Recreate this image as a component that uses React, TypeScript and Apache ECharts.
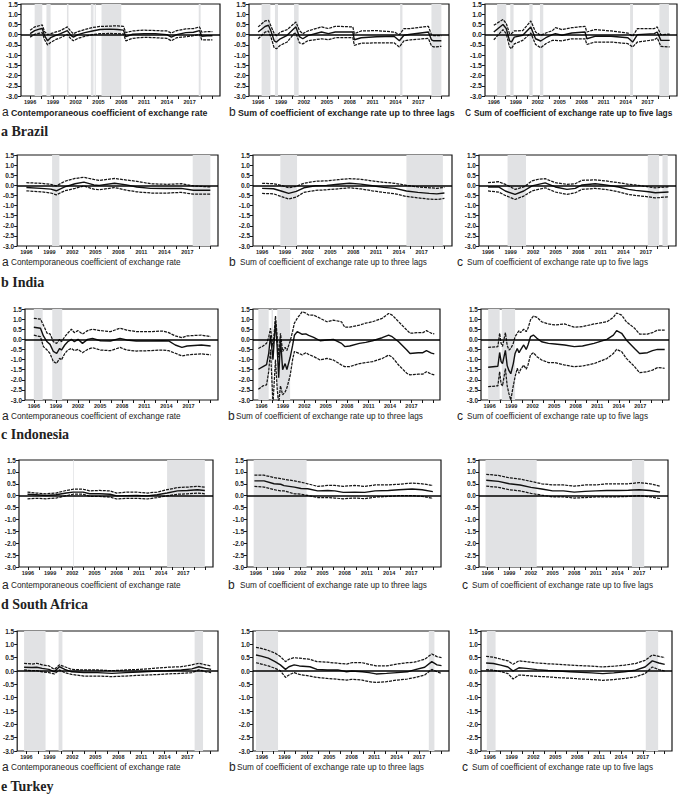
import React, { useEffect, useRef } from "react";
import * as echarts from "echarts";

// ---------------- axis ticks ----------------
const X_TICKS = [1996, 1997.5, 1999, 2000.5, 2002, 2003.5, 2005, 2006.5, 2008, 2009.5, 2011, 2012.5, 2014, 2015.5, 2017, 2018.5, 2020];
const X_LABELS = [1996, 1999, 2002, 2005, 2008, 2011, 2014, 2017];
const COUNTRIES = ["a Brazil", "b India", "c Indonesia", "d South Africa", "e Turkey"];
const LETTERS = ["a", "b", "c"];
const CAPTIONS = [
  "Contemporaneous coefficient of exchange rate",
  "Sum of coefficient of exchange rate up to three lags",
  "Sum of coefficient of exchange rate up to five lags",
];

// ---------------- Brazil ----------------
const braA_year = [1996.0, 1996.6, 1997.3, 1997.6, 1997.9, 1998.3, 1998.7, 1999.3, 2000.0, 2000.9, 2001.4, 2001.7, 2002.3, 2003.2, 2004.2, 2005.2, 2006.5, 2007.5, 2008.3, 2008.6, 2009.5, 2011.0, 2012.5, 2014.0, 2014.6, 2015.3, 2016.5, 2017.5, 2018.3, 2018.6, 2019.3, 2020.0];
const braA_up = [0.22, 0.38, 0.45, 0.48, 0.15, 0.0, 0.05, 0.12, 0.2, 0.38, 0.15, 0.05, 0.15, 0.25, 0.35, 0.4, 0.42, 0.43, 0.4, 0.1, 0.18, 0.22, 0.2, 0.18, 0.08, 0.2, 0.28, 0.3, 0.38, 0.12, 0.15, 0.15];
const braA_mid = [0.05, 0.2, 0.28, 0.3, -0.05, -0.3, -0.15, -0.05, 0.05, 0.2, -0.05, -0.12, 0.0, 0.1, 0.18, 0.25, 0.27, 0.25, 0.22, -0.1, 0.02, 0.05, 0.05, 0.0, -0.12, 0.0, 0.1, 0.12, 0.2, -0.08, -0.05, -0.05];
const braA_lo = [-0.12, 0.02, 0.08, 0.1, -0.25, -0.5, -0.38, -0.25, -0.15, 0.02, -0.22, -0.3, -0.18, -0.08, 0.0, 0.05, 0.06, 0.05, 0.04, -0.3, -0.18, -0.13, -0.15, -0.18, -0.3, -0.15, -0.1, -0.05, 0.02, -0.25, -0.25, -0.25];
const braA_shade = [[1996.6, 1997.6], [1998.15, 1998.7], [2000.85, 2001.05], [2004.0, 2004.35], [2004.5, 2004.65], [2005.4, 2008.0], [2018.2, 2018.45]];

const braB_year = [1996.0, 1996.9, 1997.35, 1997.7, 1998.1, 1998.4, 1998.9, 1999.8, 2000.7, 2000.95, 2001.4, 2001.85, 2002.5, 2004.3, 2005.2, 2006.1, 2008.4, 2008.6, 2009.5, 2011.5, 2013.8, 2014.5, 2015.1, 2016.0, 2018.3, 2018.7, 2019.0, 2020.0];
const braB_up = [0.38, 0.67, 0.7, 0.4, 0.05, -0.05, 0.12, 0.25, 0.54, 0.62, 0.2, 0.05, 0.18, 0.38, 0.3, 0.41, 0.38, 0.05, 0.18, 0.2, 0.13, 0.0, 0.3, 0.3, 0.41, 0.0, -0.05, -0.05];
const braB_mid = [0.13, 0.4, 0.46, 0.15, -0.3, -0.36, -0.2, -0.03, 0.3, 0.38, -0.1, -0.2, -0.05, 0.13, 0.05, 0.13, 0.13, -0.25, -0.15, -0.1, -0.08, -0.3, -0.03, 0.02, 0.13, -0.25, -0.3, -0.3];
const braB_lo = [-0.2, 0.12, 0.18, -0.15, -0.65, -0.69, -0.52, -0.36, 0.05, 0.08, -0.4, -0.45, -0.3, -0.2, -0.25, -0.15, -0.15, -0.52, -0.42, -0.4, -0.4, -0.6, -0.3, -0.25, -0.18, -0.55, -0.6, -0.57];
const braB_shade = [[1996.45, 1997.6], [1998.2, 1998.6], [2000.7, 2001.3], [2014.6, 2014.9], [2018.7, 2020.0]];

const braC_year = [1996.0, 1997.25, 1997.7, 1998.15, 1998.4, 1998.8, 1999.95, 2001.05, 2001.7, 2002.4, 2003.1, 2004.0, 2004.4, 2005.3, 2006.65, 2008.45, 2008.7, 2009.8, 2012.0, 2014.3, 2014.95, 2015.6, 2017.9, 2018.3, 2018.8, 2020.0];
const braC_up = [0.46, 0.74, 0.55, 0.05, 0.05, 0.18, 0.2, 0.67, 0.13, -0.03, 0.08, 0.2, 0.34, 0.25, 0.34, 0.41, 0.13, 0.25, 0.18, 0.08, -0.08, 0.3, 0.3, 0.38, 0.0, 0.03];
const braC_mid = [0.13, 0.5, 0.3, -0.3, -0.36, -0.12, -0.03, 0.38, -0.2, -0.31, -0.15, 0.0, 0.05, -0.03, 0.08, 0.13, -0.2, -0.08, -0.08, -0.15, -0.36, 0.0, 0.05, 0.13, -0.28, -0.28];
const braC_lo = [-0.25, 0.25, 0.05, -0.6, -0.69, -0.45, -0.28, 0.08, -0.48, -0.64, -0.44, -0.28, -0.28, -0.3, -0.2, -0.2, -0.48, -0.36, -0.36, -0.44, -0.6, -0.36, -0.25, -0.15, -0.57, -0.6];
const braC_shade = [[1996.45, 1997.7], [1998.25, 1998.7], [2000.85, 2001.3], [2002.3, 2002.75], [2014.6, 2015.0], [2018.6, 2019.9]];

// ---------------- India ----------------
const indA_year = [1996.0, 1997.9, 1999.2, 1999.9, 2001.0, 2002.35, 2003.5, 2004.8, 2005.5, 2007.5, 2009.05, 2010.4, 2012.2, 2014.4, 2016.2, 2017.8, 2020.0];
const indA_up = [0.13, 0.1, 0.05, -0.03, 0.2, 0.34, 0.4, 0.29, 0.24, 0.34, 0.26, 0.2, 0.08, 0.05, 0.08, -0.03, -0.08];
const indA_mid = [-0.11, -0.15, -0.19, -0.27, -0.08, 0.08, 0.16, 0.02, 0.0, 0.1, 0.02, -0.08, -0.15, -0.16, -0.15, -0.24, -0.24];
const indA_lo = [-0.27, -0.32, -0.38, -0.47, -0.27, -0.15, -0.03, -0.19, -0.22, -0.11, -0.24, -0.32, -0.38, -0.38, -0.35, -0.44, -0.44];
const indA_shade = [[1999.35, 2000.3], [2017.7, 2020.0]];

const indB_year = [1996.0, 1997.5, 1998.5, 1999.5, 2000.5, 2001.5, 2003.0, 2004.5, 2006.0, 2007.5, 2009.0, 2010.5, 2012.0, 2013.5, 2015.0, 2016.5, 2018.0, 2019.0, 2020.0];
const indB_up = [0.1, 0.08, 0.0, -0.12, -0.05, 0.1, 0.2, 0.22, 0.28, 0.33, 0.3, 0.22, 0.15, 0.1, 0.0, -0.08, -0.12, -0.15, -0.1];
const indB_mid = [-0.15, -0.17, -0.28, -0.4, -0.3, -0.12, -0.02, 0.0, 0.05, 0.1, 0.06, -0.02, -0.1, -0.15, -0.28, -0.35, -0.4, -0.42, -0.38];
const indB_lo = [-0.4, -0.42, -0.55, -0.68, -0.58, -0.35, -0.25, -0.22, -0.17, -0.12, -0.18, -0.27, -0.35, -0.42, -0.55, -0.62, -0.68, -0.7, -0.65];
const indB_shade = [[1998.4, 2000.6], [2015.0, 2019.8]];

const indC_year = [1996.0, 1997.4, 1998.3, 1999.6, 2000.75, 2001.85, 2002.7, 2003.6, 2004.95, 2006.5, 2007.6, 2008.5, 2010.25, 2011.6, 2013.35, 2014.7, 2015.6, 2017.35, 2018.25, 2020.0];
const indC_up = [0.13, 0.18, 0.05, -0.2, -0.08, 0.22, 0.3, 0.33, 0.13, 0.05, 0.08, 0.25, 0.27, 0.22, 0.13, 0.05, 0.02, -0.08, -0.12, -0.08];
const indC_mid = [-0.08, -0.08, -0.28, -0.45, -0.28, -0.03, 0.05, 0.12, -0.08, -0.2, -0.15, 0.02, 0.08, 0.02, -0.08, -0.2, -0.25, -0.32, -0.37, -0.33];
const indC_lo = [-0.28, -0.33, -0.5, -0.7, -0.53, -0.28, -0.2, -0.12, -0.33, -0.45, -0.37, -0.2, -0.15, -0.2, -0.32, -0.45, -0.5, -0.57, -0.62, -0.57];
const indC_shade = [[1998.6, 2001.05], [2017.25, 2018.75], [2019.2, 2019.9]];

// ---------------- Indonesia ----------------
const idnA_year = [1996.0, 1996.9, 1997.3, 1997.8, 1998.2, 1998.65, 1999.1, 1999.5, 1999.75, 2000.2, 2000.6, 2001.1, 2001.5, 2002.0, 2002.6, 2003.3, 2003.95, 2005.05, 2006.4, 2007.7, 2008.6, 2009.9, 2011.7, 2013.45, 2014.3, 2015.2, 2016.1, 2016.8, 2018.75, 2020.0];
const idnA_up = [1.04, 1.0, 0.7, 0.3, 0.27, -0.12, -0.2, 0.0, -0.12, 0.13, 0.3, 0.5, 0.33, 0.43, 0.26, 0.43, 0.5, 0.43, 0.38, 0.55, 0.46, 0.38, 0.38, 0.41, 0.33, 0.17, 0.08, 0.17, 0.21, 0.13];
const idnA_mid = [0.6, 0.55, 0.17, -0.12, -0.25, -0.6, -0.7, -0.45, -0.53, -0.28, -0.12, 0.0, -0.12, 0.0, -0.2, 0.0, 0.05, -0.07, -0.08, 0.05, -0.03, -0.08, -0.08, -0.07, -0.08, -0.28, -0.4, -0.33, -0.28, -0.33];
const idnA_lo = [0.21, 0.13, -0.36, -0.53, -0.7, -1.1, -1.19, -0.94, -1.02, -0.7, -0.53, -0.45, -0.56, -0.5, -0.66, -0.5, -0.41, -0.53, -0.56, -0.4, -0.53, -0.58, -0.56, -0.53, -0.56, -0.69, -0.82, -0.77, -0.72, -0.77];
const idnA_shade = [[1996.0, 1997.2], [1998.5, 1999.85]];

const idnB_year = [1995.55, 1996.2, 1996.7, 1997.0, 1997.25, 1997.6, 1997.95, 1998.2, 1998.4, 1998.65, 1998.95, 1999.3, 1999.55, 2000.0, 2000.35, 2000.6, 2001.0, 2001.7, 2002.2, 2002.6, 2003.3, 2004.2, 2005.15, 2006.05, 2007.2, 2007.65, 2008.35, 2009.7, 2010.6, 2011.55, 2012.9, 2013.8, 2014.3, 2015.2, 2016.35, 2016.8, 2017.95, 2018.6, 2019.1, 2019.8, 2020.2];
const idnB_up = [-0.45, -0.33, -0.2, 0.1, 0.55, -0.4, 1.15, 0.1, -0.9, 0.3, -0.6, -0.4, -0.55, -0.1, 0.4, 0.8, 1.04, 1.37, 1.3, 1.2, 1.2, 1.04, 0.87, 0.95, 0.87, 0.6, 0.6, 0.7, 0.8, 0.87, 1.04, 1.28, 1.2, 0.87, 0.46, 0.3, 0.33, 0.33, 0.43, 0.3, 0.27];
const idnB_mid = [-1.48, -1.35, -1.25, -0.7, 0.2, -1.0, 0.9, -0.5, -1.9, 0.0, -1.5, -1.2, -1.5, -0.9, -0.3, 0.2, 0.38, 0.25, 0.27, 0.2, 0.1, -0.07, -0.03, 0.0, -0.2, -0.36, -0.33, -0.2, -0.15, -0.07, 0.08, 0.21, 0.13, -0.12, -0.53, -0.7, -0.66, -0.66, -0.56, -0.68, -0.72];
const idnB_lo = [-2.47, -2.3, -2.25, -1.6, -0.5, -3.2, -1.0, -2.5, -3.2, -2.3, -2.75, -2.6, -2.4, -1.8, -1.0, -0.6, -0.66, -0.77, -0.66, -0.75, -0.85, -1.02, -0.94, -1.02, -1.27, -1.35, -1.35, -1.2, -1.15, -1.1, -0.95, -0.78, -0.88, -1.27, -1.68, -1.76, -1.72, -1.72, -1.6, -1.72, -1.76];
const idnB_shade = [[1995.55, 1997.0], [1997.4, 1997.6], [1998.2, 2000.0]];

const idnC_year = [1995.8, 1997.15, 1997.4, 1997.6, 1997.8, 1998.2, 1998.45, 1998.7, 1998.95, 1999.3, 1999.55, 1999.85, 2000.1, 2000.3, 2000.75, 2001.1, 2001.35, 2001.7, 2002.1, 2002.6, 2003.25, 2004.2, 2005.1, 2006.45, 2007.8, 2008.95, 2010.55, 2012.35, 2013.25, 2013.7, 2014.4, 2015.05, 2016.2, 2016.9, 2018.0, 2018.7, 2019.4, 2020.4];
const idnC_up = [-0.4, -0.36, 0.3, -0.2, -0.35, 0.33, -0.3, -0.53, -0.45, -0.2, 0.13, 0.3, 0.43, 0.33, 0.5, 0.38, 0.55, 0.96, 1.15, 1.09, 0.87, 0.76, 0.71, 0.76, 0.6, 0.63, 0.76, 0.87, 1.09, 1.3, 1.2, 0.87, 0.55, 0.26, 0.26, 0.33, 0.46, 0.46];
const idnC_mid = [-1.38, -1.33, -0.65, -1.1, -1.2, -0.55, -1.3, -1.55, -1.7, -1.2, -0.7, -0.45, -0.66, -0.53, -0.28, -0.5, -0.28, 0.13, 0.21, 0.05, -0.12, -0.2, -0.23, -0.28, -0.36, -0.33, -0.2, 0.0, 0.21, 0.43, 0.3, -0.03, -0.45, -0.7, -0.66, -0.56, -0.5, -0.5];
const idnC_lo = [-2.34, -2.3, -1.6, -2.2, -2.3, -1.45, -2.3, -2.7, -3.0, -2.3, -1.85, -1.43, -1.68, -1.5, -1.27, -1.48, -1.27, -0.77, -0.66, -0.86, -1.02, -1.15, -1.15, -1.27, -1.35, -1.32, -1.2, -0.95, -0.7, -0.5, -0.61, -0.94, -1.35, -1.65, -1.6, -1.52, -1.4, -1.43];
const idnC_shade = [[1995.8, 1997.4], [1997.7, 1999.55]];

// ---------------- South Africa ----------------
const zafA_year = [1995.95, 1997.1, 1998.45, 1999.8, 2001.2, 2002.1, 2003.45, 2004.35, 2005.7, 2007.1, 2008.0, 2009.35, 2010.7, 2012.1, 2013.45, 2014.8, 2016.2, 2017.55, 2018.9, 2019.9];
const zafA_up = [0.15, 0.11, 0.08, 0.11, 0.22, 0.27, 0.27, 0.2, 0.22, 0.2, 0.11, 0.15, 0.15, 0.11, 0.15, 0.25, 0.34, 0.36, 0.39, 0.36];
const zafA_mid = [0.06, 0.04, 0.01, 0.04, 0.11, 0.15, 0.15, 0.08, 0.08, 0.06, -0.01, 0.0, 0.01, -0.01, 0.04, 0.11, 0.2, 0.22, 0.25, 0.22];
const zafA_lo = [-0.13, -0.11, -0.13, -0.1, 0.0, 0.06, 0.06, -0.03, -0.03, -0.06, -0.14, -0.11, -0.11, -0.14, -0.08, -0.01, 0.06, 0.08, 0.11, 0.08];
const zafA_shade = [[2002.1, 2002.2], [2014.8, 2019.9]];

const zafB_year = [1995.8, 1997.1, 1998.45, 1999.35, 1999.8, 2001.2, 2002.1, 2003.0, 2004.35, 2005.7, 2006.65, 2007.8, 2009.35, 2010.7, 2012.1, 2013.9, 2015.3, 2017.1, 2018.45, 2019.9];
const zafB_up = [0.86, 0.86, 0.76, 0.72, 0.69, 0.62, 0.57, 0.5, 0.39, 0.43, 0.43, 0.39, 0.43, 0.39, 0.45, 0.45, 0.48, 0.53, 0.5, 0.43];
const zafB_mid = [0.62, 0.62, 0.5, 0.48, 0.42, 0.36, 0.3, 0.29, 0.2, 0.22, 0.2, 0.14, 0.15, 0.14, 0.2, 0.22, 0.25, 0.28, 0.25, 0.17];
const zafB_lo = [0.39, 0.36, 0.25, 0.2, 0.2, 0.08, 0.06, 0.01, -0.08, -0.08, -0.1, -0.13, -0.1, -0.13, -0.06, -0.03, 0.0, 0.0, -0.03, -0.11];
const zafB_shade = [[1995.7, 2002.85]];

const zafC_year = [1995.8, 1997.5, 1999.0, 2000.5, 2002.0, 2003.5, 2005.0, 2006.5, 2008.0, 2009.5, 2011.0, 2012.5, 2014.0, 2015.5, 2017.0, 2018.5, 2019.9];
const zafC_up = [0.9, 0.85, 0.75, 0.7, 0.6, 0.5, 0.45, 0.45, 0.4, 0.45, 0.45, 0.5, 0.5, 0.5, 0.55, 0.5, 0.4];
const zafC_mid = [0.65, 0.6, 0.5, 0.45, 0.35, 0.28, 0.2, 0.2, 0.15, 0.18, 0.2, 0.22, 0.22, 0.23, 0.25, 0.22, 0.15];
const zafC_lo = [0.4, 0.35, 0.25, 0.2, 0.1, 0.02, -0.05, -0.05, -0.1, -0.08, -0.05, -0.05, -0.05, -0.03, 0.0, -0.05, -0.12];
const zafC_shade = [[1995.7, 2002.8], [2016.0, 2017.7]];

// ---------------- Turkey ----------------
const turA_year = [1995.7, 1996.7, 1997.35, 1998.05, 1998.95, 1999.65, 2000.3, 2001.0, 2001.9, 2003.5, 2005.3, 2007.15, 2008.95, 2010.75, 2012.6, 2014.4, 2016.2, 2017.6, 2018.5, 2019.4, 2020.1];
const turA_up = [0.29, 0.26, 0.29, 0.23, 0.19, 0.06, 0.23, 0.16, 0.06, 0.04, 0.04, 0.01, 0.04, 0.06, 0.1, 0.14, 0.16, 0.23, 0.29, 0.23, 0.19];
const turA_mid = [0.14, 0.13, 0.14, 0.1, 0.06, -0.03, 0.16, 0.06, -0.03, -0.06, -0.06, -0.09, -0.06, -0.04, -0.01, 0.01, 0.04, 0.08, 0.16, 0.1, 0.06];
const turA_lo = [0.04, 0.01, 0.01, -0.03, -0.06, -0.11, 0.04, -0.06, -0.13, -0.19, -0.19, -0.21, -0.19, -0.16, -0.14, -0.11, -0.09, -0.06, 0.04, -0.03, -0.06];
const turA_shade = [[1995.7, 1998.5], [2000.2, 2000.7], [2017.95, 2019.05]];

const turB_year = [1995.2, 1995.9, 1996.85, 1997.75, 1998.45, 1999.15, 1999.6, 2000.3, 2001.0, 2002.4, 2003.35, 2004.75, 2006.15, 2007.3, 2008.0, 2009.4, 2010.3, 2011.25, 2012.65, 2014.05, 2015.45, 2016.35, 2017.75, 2018.7, 2019.4, 2020.0];
const turB_up = [0.89, 0.85, 0.77, 0.67, 0.54, 0.35, 0.44, 0.5, 0.48, 0.44, 0.35, 0.33, 0.29, 0.26, 0.31, 0.31, 0.25, 0.19, 0.19, 0.26, 0.31, 0.33, 0.44, 0.64, 0.54, 0.5];
const turB_mid = [0.6, 0.56, 0.48, 0.35, 0.23, 0.06, 0.16, 0.23, 0.19, 0.16, 0.06, 0.04, 0.04, -0.03, 0.0, -0.03, -0.06, -0.11, -0.09, -0.06, -0.03, 0.04, 0.14, 0.35, 0.23, 0.2];
const turB_lo = [0.31, 0.26, 0.19, 0.1, 0.01, -0.24, -0.15, -0.06, -0.13, -0.19, -0.24, -0.28, -0.31, -0.34, -0.31, -0.34, -0.4, -0.43, -0.4, -0.34, -0.3, -0.25, -0.15, 0.06, -0.03, -0.09];
const turB_shade = [[1995.2, 1998.15], [2018.3, 2019.05]];

const turC_year = [1995.5, 1996.5, 1997.5, 1998.5, 1999.2, 2000.0, 2001.0, 2002.5, 2004.0, 2005.5, 2007.0, 2008.5, 2010.0, 2011.5, 2013.0, 2014.5, 2016.0, 2017.3, 2018.3, 2019.2, 2020.0];
const turC_up = [0.55, 0.52, 0.45, 0.38, 0.25, 0.38, 0.35, 0.3, 0.27, 0.25, 0.22, 0.2, 0.18, 0.15, 0.18, 0.22, 0.28, 0.4, 0.6, 0.55, 0.5];
const turC_mid = [0.3, 0.28, 0.22, 0.15, 0.0, 0.12, 0.1, 0.05, 0.02, 0.0, -0.03, -0.05, -0.07, -0.1, -0.07, -0.03, 0.03, 0.15, 0.38, 0.3, 0.25];
const turC_lo = [0.05, 0.03, -0.02, -0.1, -0.3, -0.15, -0.17, -0.2, -0.22, -0.25, -0.27, -0.3, -0.32, -0.35, -0.32, -0.28, -0.22, -0.1, 0.15, 0.05, 0.0];
const turC_shade = [[1995.6, 1996.8], [2017.4, 2019.1]];

// ---------------- panel table (row-major) ----------------
const PANELS = [
  { year: braA_year, up: braA_up, mid: braA_mid, lo: braA_lo, shade: braA_shade },
  { year: braB_year, up: braB_up, mid: braB_mid, lo: braB_lo, shade: braB_shade },
  { year: braC_year, up: braC_up, mid: braC_mid, lo: braC_lo, shade: braC_shade },
  { year: indA_year, up: indA_up, mid: indA_mid, lo: indA_lo, shade: indA_shade },
  { year: indB_year, up: indB_up, mid: indB_mid, lo: indB_lo, shade: indB_shade },
  { year: indC_year, up: indC_up, mid: indC_mid, lo: indC_lo, shade: indC_shade },
  { year: idnA_year, up: idnA_up, mid: idnA_mid, lo: idnA_lo, shade: idnA_shade },
  { year: idnB_year, up: idnB_up, mid: idnB_mid, lo: idnB_lo, shade: idnB_shade },
  { year: idnC_year, up: idnC_up, mid: idnC_mid, lo: idnC_lo, shade: idnC_shade },
  { year: zafA_year, up: zafA_up, mid: zafA_mid, lo: zafA_lo, shade: zafA_shade },
  { year: zafB_year, up: zafB_up, mid: zafB_mid, lo: zafB_lo, shade: zafB_shade },
  { year: zafC_year, up: zafC_up, mid: zafC_mid, lo: zafC_lo, shade: zafC_shade },
  { year: turA_year, up: turA_up, mid: turA_mid, lo: turA_lo, shade: turA_shade },
  { year: turB_year, up: turB_up, mid: turB_mid, lo: turB_lo, shade: turB_shade },
  { year: turC_year, up: turC_up, mid: turC_mid, lo: turC_lo, shade: turC_shade },
];

// ---------------- layout (pixels) ----------------
const LAYOUT = [
  { top: 4, bottom: 96, cap: 112, country: 131, cols: [[21, 220], [249, 449], [485, 677]], capX: [[2, 11], [229, 238], [465, 474]], big: true },
  { top: 155, bottom: 246, cap: 262, country: 282, cols: [[15, 218], [253, 452], [479, 676]], capX: [[2, 11], [229, 240], [457, 467]], big: false },
  { top: 309, bottom: 400, cap: 416, country: 434, cols: [[25, 218], [253, 440], [481, 669]], capX: [[2, 11], [228, 236], [457, 467]], big: false },
  { top: 460, bottom: 567, cap: 585, country: 604, cols: [[19, 213], [247, 441], [479, 668]], capX: [[2, 11], [228, 240], [462, 472]], big: false },
  { top: 631, bottom: 751, cap: 767, country: 786, cols: [[17, 218], [253, 449], [481, 672]], capX: [[2, 11], [229, 237], [462, 472]], big: false },
];

const INK = "#161616";
const SANS = '"Liberation Sans", Arial, sans-serif';

function buildOption() {
  const grid: any[] = [];
  const xAxis: any[] = [];
  const yAxis: any[] = [];
  const series: any[] = [];
  const elements: any[] = [];

  PANELS.forEach((p, i) => {
    const r = Math.floor(i / 3);
    const c = i % 3;
    const L = LAYOUT[r];
    const [x0, x1] = L.cols[c];
    grid.push({
      left: x0, top: L.top, width: x1 - x0, height: L.bottom - L.top,
      show: true, borderColor: INK, borderWidth: 1.2, backgroundColor: "transparent",
    });
    xAxis.push({
      type: "value", gridIndex: i, min: 1994.8, max: 2021,
      splitLine: { show: false },
      axisLine: { show: false, onZero: false },
      axisTick: { show: true, length: 3, customValues: X_TICKS, lineStyle: { color: INK, width: 1 } },
      axisLabel: {
        show: true, customValues: X_LABELS, fontSize: 5.5, fontWeight: "bold", color: "#222",
        margin: 3, fontFamily: SANS, formatter: (v: number) => String(Math.round(v)),
      },
    });
    yAxis.push({
      type: "value", gridIndex: i, min: -3, max: 1.5, interval: 0.5,
      splitLine: { show: false },
      axisLine: { show: false, onZero: false },
      axisTick: { show: true, length: 3, lineStyle: { color: INK, width: 1 } },
      axisLabel: {
        fontSize: L.big ? 7 : 6.5, fontWeight: "bold", color: "#222", margin: 3, fontFamily: SANS,
        formatter: (v: number) => v.toFixed(1),
      },
    });
    const pts = (ys: number[]) => p.year.map((x, k) => [x, ys[k]]);
    series.push({
      type: "line", xAxisIndex: i, yAxisIndex: i, data: pts(p.mid), symbol: "none",
      lineStyle: { opacity: 0, width: 0 }, z: 1, silent: true,
      markArea: {
        silent: true, itemStyle: { color: "#e1e2e4" },
        data: p.shade.map(([a, b]) => [{ xAxis: a }, { xAxis: b }]),
      },
    });
    series.push({
      type: "line", xAxisIndex: i, yAxisIndex: i, data: pts(p.up), symbol: "none", z: 3, silent: true,
      lineStyle: { color: INK, width: 1.25, type: [3, 1] },
    });
    series.push({
      type: "line", xAxisIndex: i, yAxisIndex: i, data: pts(p.lo), symbol: "none", z: 3, silent: true,
      lineStyle: { color: INK, width: 1.25, type: [3, 1] },
    });
    series.push({
      type: "line", xAxisIndex: i, yAxisIndex: i, data: pts(p.mid), symbol: "none", z: 4, silent: true,
      lineStyle: { color: "#111", width: 1.4 },
      markLine: {
        silent: true, symbol: "none", label: { show: false },
        lineStyle: { color: "#000", width: 1.5, type: "solid" },
        data: [{ yAxis: 0 }],
      },
    });

    const capFont = L.big
      ? (c === 2 ? `bold 8.3px ${SANS}` : `bold 8.8px ${SANS}`)
      : `8.2px ${SANS}`;
    elements.push({
      type: "text", x: L.capX[c][0], y: L.cap,
      style: { text: LETTERS[c], font: `12px ${SANS}`, fill: "#222", verticalAlign: "middle", align: "left" },
    });
    elements.push({
      type: "text", x: L.capX[c][1], y: L.cap + 0.5,
      style: { text: CAPTIONS[c], font: capFont, fill: "#222", verticalAlign: "middle", align: "left" },
    });
  });

  LAYOUT.forEach((L, r) => {
    elements.push({
      type: "text", x: 1, y: L.country,
      style: {
        text: COUNTRIES[r], font: `bold 14px "Liberation Serif", "Times New Roman", serif`,
        fill: "#222", verticalAlign: "middle", align: "left",
      },
    });
  });

  return {
    animation: false,
    backgroundColor: "#ffffff",
    textStyle: { fontFamily: SANS },
    grid, xAxis, yAxis, series,
    graphic: { elements },
  };
}

export default function App() {
  const ref = useRef<HTMLDivElement>(null);
  useEffect(() => {
    if (!ref.current) return;
    const chart = echarts.init(ref.current, undefined, { renderer: "svg" });
    chart.setOption(buildOption() as any);
    return () => chart.dispose();
  }, []);
  return (
    <div
      ref={ref}
      style={{ position: "absolute", left: 0, top: 0, width: 685, height: 796, background: "#fff" }}
    />
  );
}
